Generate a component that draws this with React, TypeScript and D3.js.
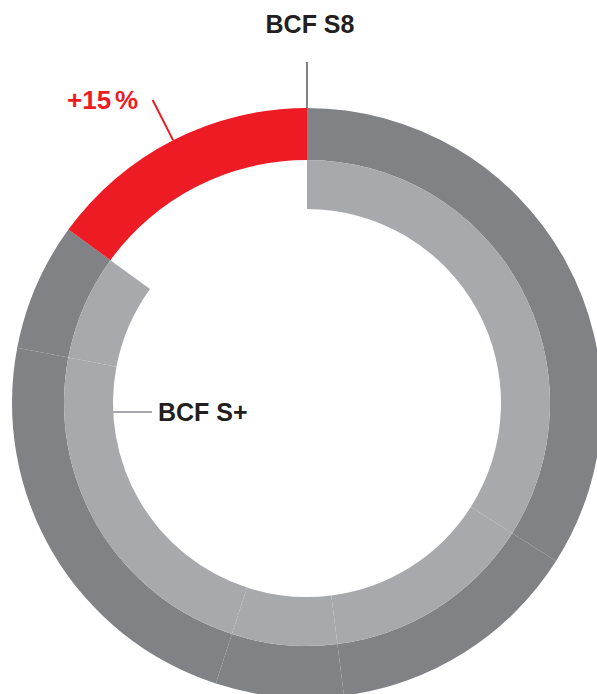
import React from "react";
import * as d3 from "d3";

// Shares (percent of BCF S8 total) for each segment
const segmentShares = [34, 14, 7, 23, 7];
const increaseShare = 15; // "+15 %"
const outerLabel = "BCF S8";
const innerLabel = "BCF S+";
const increaseLabel = "+15";

const W = 597;
const H = 694;
const cx = 307;
const cy = 403;
const rOuterOut = 295;
const rOuterIn = 243;
const rInnerIn = 194;

const DARK = "#808285";
const LIGHT = "#a7a9ac";
const RED = "#ed1c24";
const TEXT = "#231f20";
const FONT = "'Liberation Sans', Arial, Helvetica, sans-serif";

export default function App() {
  const angle = d3.scaleLinear().domain([0, 100]).range([0, 2 * Math.PI]);
  const innerTotal = d3.sum(segmentShares);

  const outerData = [...segmentShares, increaseShare];
  const outerPie = d3
    .pie<number>()
    .sort(null)
    .value((d) => d)
    .startAngle(0)
    .endAngle(angle(innerTotal + increaseShare))(outerData);
  const innerPie = d3
    .pie<number>()
    .sort(null)
    .value((d) => d)
    .startAngle(0)
    .endAngle(angle(innerTotal))(segmentShares);

  const outerArc = d3.arc<d3.PieArcDatum<number>>().innerRadius(rOuterIn).outerRadius(rOuterOut);
  const innerArc = d3.arc<d3.PieArcDatum<number>>().innerRadius(rInnerIn).outerRadius(rOuterIn);

  const cum = d3.cumsum(segmentShares).slice(0, -1);
  const polar = (a: number, r: number) => [Math.sin(a) * r, -Math.cos(a) * r];

  const redMid = angle(innerTotal + increaseShare / 2);
  const [rx1, ry1] = polar(redMid, rOuterOut);
  const [rx2, ry2] = polar(redMid, rOuterOut + 45);
  const [sx1, sy1] = polar(0, rOuterOut);
  const [sx2, sy2] = polar(0, rOuterOut + 46);

  return (
    <svg
      width={W}
      height={H}
      style={{ position: "absolute", left: 0, top: 0, overflow: "hidden", background: "#fff" }}
    >
      <g transform={`translate(${cx},${cy})`}>
        {outerPie.map((d, i) => (
          <path key={"o" + i} d={outerArc(d) || ""} fill={i === outerData.length - 1 ? RED : DARK} />
        ))}
        {innerPie.map((d, i) => (
          <path key={"i" + i} d={innerArc(d) || ""} fill={LIGHT} />
        ))}
        {cum.map((c, i) => {
          const [x1, y1] = polar(angle(c), rInnerIn);
          const [x2, y2] = polar(angle(c), rOuterOut);
          return (
            <line
              key={"d" + i}
              x1={x1}
              y1={y1}
              x2={x2}
              y2={y2}
              stroke="#e6e7e8"
              strokeWidth={0.7}
              strokeDasharray="3,2"
              opacity={0.75}
            />
          );
        })}
        <line x1={sx1} y1={sy1} x2={sx2} y2={sy2} stroke={DARK} strokeWidth={2} />
        <line x1={rx1} y1={ry1} x2={rx2} y2={ry2} stroke={RED} strokeWidth={2} />
        <line x1={-rInnerIn} y1={9} x2={-rInnerIn + 39} y2={9} stroke={LIGHT} strokeWidth={2} />
      </g>
      <text x={310} y={33} textAnchor="middle" fontFamily={FONT} fontWeight="bold" fontSize={25} fill={TEXT}>
        {outerLabel}
      </text>
      <text x={67} y={109} fontFamily={FONT} fontWeight="bold" fontSize={26} fill={RED}>
        {increaseLabel}
        <tspan dx={4}>%</tspan>
      </text>
      <text x={158} y={421} fontFamily={FONT} fontWeight="bold" fontSize={25} fill={TEXT}>
        {innerLabel}
      </text>
    </svg>
  );
}
